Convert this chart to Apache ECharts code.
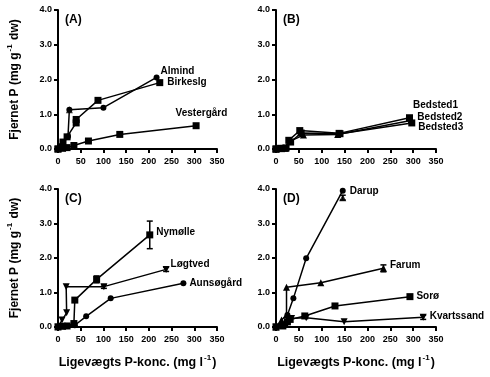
<!DOCTYPE html>
<html>
<head>
<meta charset="utf-8">
<script src="https://cdn.jsdelivr.net/npm/echarts@6/dist/echarts.min.js"></script>
<style>
  html, body { margin: 0; padding: 0; background: #fff; }
  #main { width: 490px; height: 377px; }
</style>
</head>
<body>
<div id="main"></div>
<script>
// data: [ligevægts P-konc., fjernet P]
// (A)
var almind = [[0, 0], [8, 0.1], [22, 0.36], [25, 1.13], [100, 1.19], [217, 2.06]];
var birkeslg = [[0, 0], [11, 0.2], [20, 0.35], [40, 0.75], [40, 0.85], [88, 1.40], [224, 1.91]];
var vestergard = [[0, 0], [10, 0.02], [20, 0.04], [35, 0.1], [67, 0.23], [136, 0.42], [304, 0.67]];
// (B)
var bedsted1 = [[0, 0], [10, 0.02], [20, 0.02], [28, 0.25], [52, 0.53], [138, 0.45], [292, 0.9]];
var bedsted2 = [[0, 0], [10, 0.02], [20, 0.03], [30, 0.22], [60, 0.4], [135, 0.42], [295, 0.82]];
var bedsted3 = [[0, 0], [12, 0.01], [22, 0.03], [32, 0.2], [55, 0.46], [140, 0.44], [297, 0.75]];
// (C)
var nymolle = [[0, 0], [10, 0.02], [20, 0.03], [35, 0.1], [37, 0.78], [85, 1.38], [202, 2.67]];
var logtved = [[0, 0], [9, 0.2], [19, 0.41], [18, 1.17], [101, 1.17], [238, 1.67]];
var aunsogard = [[0, 0], [15, 0.03], [37, 0.05], [62, 0.31], [116, 0.83], [276, 1.27]];
var errC = [[85, 1.38, 0.1], [202, 2.67, 0.4], [101, 1.17, 0.05], [238, 1.67, 0.06]];
// (D)
var darup = [[0, 0], [10, 0.03], [20, 0.05], [25, 0.35], [38, 0.83], [66, 1.99], [146, 3.95]];
var darupRep = [[146, 3.75]];
var farum = [[0, 0], [12, 0.2], [23, 0.35], [23, 1.15], [98, 1.28], [235, 1.7]];
var soro = [[0, 0], [15, 0.03], [25, 0.15], [31, 0.22], [63, 0.32], [129, 0.61], [293, 0.88]];
var kvartssand = [[0, 0], [20, 0.05], [34, 0.25], [66, 0.27], [149, 0.15], [322, 0.28]];
var errD = [[146, 3.75, 0.07], [235, 1.7, 0.1], [322, 0.28, 0.06]];

var xTicks = { min: 0, max: 350, step: 50 };
var yTicks = { min: 0, max: 4, step: 1 };

var FONT = 'Liberation Sans';
var chart = echarts.init(document.getElementById('main'));

var grids = [
    { left: 58, top: 10, width: 159, height: 139 },
    { left: 276, top: 10, width: 160, height: 139 },
    { left: 58, top: 189, width: 159, height: 138 },
    { left: 276, top: 189, width: 160, height: 138 }
];

function nameRich(size) {
    return {
        t: { fontFamily: FONT, fontSize: size, fontWeight: 'bold', color: '#000' },
        s: { fontFamily: FONT, fontSize: 8, fontWeight: 'bold', color: '#000', padding: [0, 1, 9, 1] }
    };
}

function xAxis(i) {
    var ax = {
        type: 'value', gridIndex: i,
        min: xTicks.min, max: xTicks.max, interval: xTicks.step,
        axisLine: { show: true, onZero: false, lineStyle: { color: '#000', width: 2 } },
        axisTick: { show: true, length: 4, lineStyle: { color: '#000', width: 2 } },
        axisLabel: { margin: 8, fontFamily: FONT, fontSize: 9, fontWeight: 'bold', color: '#000' },
        splitLine: { show: false }
    };
    if (i >= 2) {
        ax.name = '{t|Ligevægts P-konc. (mg l}{s|-1}{t|)}';
        ax.nameLocation = 'middle';
        ax.nameGap = 27;
        ax.nameTextStyle = { rich: nameRich(12.5) };
    }
    return ax;
}

function yAxis(i) {
    var ax = {
        type: 'value', gridIndex: i,
        min: yTicks.min, max: yTicks.max, interval: yTicks.step,
        axisLine: { show: true, onZero: false, lineStyle: { color: '#000', width: 2 } },
        axisTick: { show: true, length: 4, lineStyle: { color: '#000', width: 2 } },
        axisLabel: {
            margin: 6, fontFamily: FONT, fontSize: 9, fontWeight: 'bold', color: '#000',
            formatter: function (v) { return v.toFixed(1); }
        },
        splitLine: { show: false }
    };
    if (i % 2 === 0) {
        ax.name = '{t|Fjernet P (mg g}{s|-1}{t| dw)}';
        ax.nameLocation = 'middle';
        ax.nameGap = 35;
        ax.nameTextStyle = { rich: nameRich(12) };
    }
    return ax;
}

// line with markers, name label on the last point
function lineSeries(name, data, grid, symbol, labelPos, rotate) {
    var pts = data.map(function (d, k) {
        if (k < data.length - 1) return d;
        return {
            value: d,
            label: {
                show: true, formatter: name, position: labelPos,
                align: 'left', verticalAlign: 'middle',
                fontFamily: FONT, fontSize: 10, fontWeight: 'bold', color: '#000'
            }
        };
    });
    return {
        name: name, type: 'line', xAxisIndex: grid, yAxisIndex: grid,
        data: pts, symbol: symbol, symbolSize: symbol === 'circle' ? 6 : 7,
        symbolRotate: rotate || 0,
        lineStyle: { color: '#000', width: 1.5 },
        itemStyle: { color: '#000' },
        z: 3
    };
}

function markers(data, grid, symbol, rotate) {
    return {
        type: 'scatter', xAxisIndex: grid, yAxisIndex: grid, data: data,
        symbol: symbol, symbolSize: 7, symbolRotate: rotate || 0,
        itemStyle: { color: '#000' }, z: 4
    };
}

function errorBars(data, grid) {
    return {
        type: 'custom', xAxisIndex: grid, yAxisIndex: grid, data: data,
        encode: { x: 0, y: 1 }, z: 5,
        renderItem: function (params, api) {
            var x = api.value(0), y = api.value(1), e = api.value(2);
            var top = api.coord([x, y + e]), bot = api.coord([x, y - e]);
            var hw = 3, st = { stroke: '#000', lineWidth: 1.5 };
            return {
                type: 'group', children: [
                    { type: 'line', shape: { x1: top[0], y1: top[1], x2: bot[0], y2: bot[1] }, style: st },
                    { type: 'line', shape: { x1: top[0] - hw, y1: top[1], x2: top[0] + hw, y2: top[1] }, style: st },
                    { type: 'line', shape: { x1: bot[0] - hw, y1: bot[1], x2: bot[0] + hw, y2: bot[1] }, style: st }
                ]
            };
        }
    };
}

var series = [
    lineSeries('Almind', almind, 0, 'circle', [7, -3]),
    lineSeries('Birkeslg', birkeslg, 0, 'rect', [11, 3]),
    lineSeries('Vestergård', vestergard, 0, 'rect', [-17, -9]),
    markers([almind[3]], 0, 'triangle'),

    lineSeries('Bedsted1', bedsted1, 1, 'rect', [7, -9]),
    lineSeries('Bedsted2', bedsted2, 1, 'triangle', [10, 0]),
    lineSeries('Bedsted3', bedsted3, 1, 'rect', [10, 8]),

    lineSeries('Nymølle', nymolle, 2, 'rect', [10, 1]),
    lineSeries('Løgtved', logtved, 2, 'triangle', [8, -2], 180),
    lineSeries('Aunsøgård', aunsogard, 2, 'circle', [9, 3]),
    errorBars(errC, 2),

    lineSeries('Darup', darup, 3, 'circle', [10, 4]),
    lineSeries('Farum', farum, 3, 'triangle', [10, 0]),
    lineSeries('Sorø', soro, 3, 'rect', [10, 3]),
    lineSeries('Kvartssand', kvartssand, 3, 'triangle', [10, 2], 180),
    markers(darupRep, 3, 'triangle'),
    errorBars(errD, 3)
];

var letters = ['(A)', '(B)', '(C)', '(D)'];
var graphic = letters.map(function (t, i) {
    return {
        type: 'text', left: grids[i].left + 7, top: grids[i].top + 4,
        style: { text: t, font: 'bold 12px "' + FONT + '"', fill: '#000' }
    };
});

chart.setOption({
    animation: false,
    backgroundColor: '#fff',
    grid: grids,
    xAxis: [0, 1, 2, 3].map(xAxis),
    yAxis: [0, 1, 2, 3].map(yAxis),
    series: series,
    graphic: graphic
});
</script>
</body>
</html>
